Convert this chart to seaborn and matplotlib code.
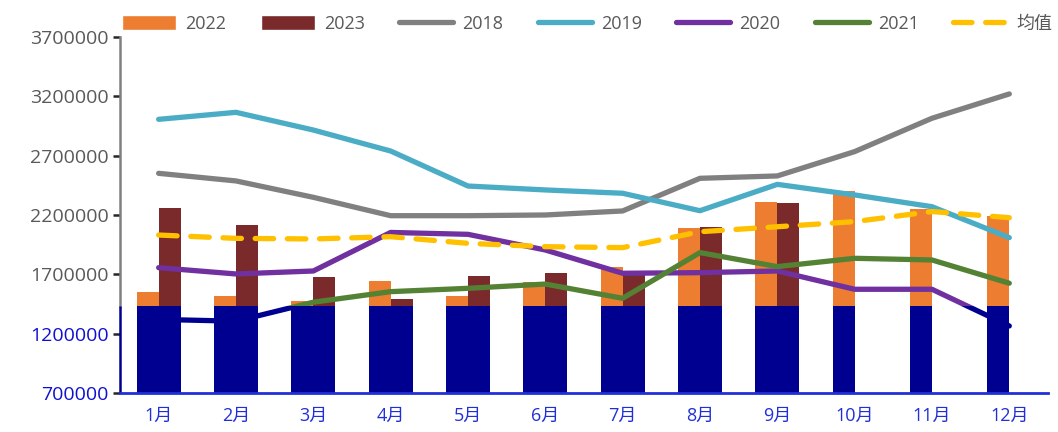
import pandas as pd
import matplotlib
matplotlib.use('Agg')
import matplotlib.pyplot as plt
import seaborn as sns
import numpy as np
from matplotlib.patches import Patch, Rectangle
from matplotlib.lines import Line2D

months = ['1月', '2月', '3月', '4月', '5月', '6月', '7月', '8月', '9月', '10月', '11月', '12月']
y2018 = [2551000, 2487000, 2349000, 2194000, 2194000, 2200000, 2234000, 2509000, 2529000, 2734000, 3015000, 3220000]
y2019 = [3006000, 3065000, 2916000, 2739000, 2444000, 2411000, 2383000, 2236000, 2458000, 2369000, 2270000, 2009000]
y2020 = [1756000, 1703000, 1728000, 2053000, 2037000, 1905000, 1709000, 1714000, 1728000, 1574000, 1574000, 1265000]
y2021 = [1320000, 1305000, 1465000, 1554000, 1582000, 1618000, 1498000, 1883000, 1765000, 1835000, 1821000, 1625000]
y2022 = [1554000, 1517000, 1475000, 1641000, 1517000, 1638000, 1765000, 2088000, 2312000, 2405000, 2248000, 2194000]
y2023 = [2262000, 2113000, 1675000, 1495000, 1689000, 1709000, 1731000, 2101000, 2304000, np.nan, np.nan, np.nan]
avg = [2031000, 2003000, 1998000, 2017000, 1961000, 1933000, 1925000, 2059000, 2101000, 2144000, 2229000, 2177000]
yticks = [700000, 1200000, 1700000, 2200000, 2700000, 3200000, 3700000]

# the lower band of the picture is recoloured navy
THRESH = 1430000

ORANGE = '#ED7D31'
DARKRED = '#7A2A2A'
GRAY = '#808080'
TEAL = '#4BACC6'
PURPLE = '#7030A0'
GREEN = '#548235'
GOLD = '#FFC000'
NAVY = '#000090'
BLUE = '#2030D8'
TXT = '#595959'

sns.set_style('white')
plt.rcParams['font.family'] = ['Open Sans', 'Noto Sans CJK SC', 'DejaVu Sans']

fig = plt.figure(figsize=(10.58, 4.32), dpi=100)
ax = fig.add_axes([0.1134, 0.0903, 0.8771, 0.8241])

bars = pd.DataFrame({
    'month': months * 2,
    'year': ['2022'] * 12 + ['2023'] * 12,
    'value': y2022 + y2023,
})
bars['cap'] = bars['value'].clip(upper=THRESH)

sns.barplot(data=bars, x='month', y='value', hue='year', palette=[ORANGE, DARKRED],
            width=0.57, saturation=1, linewidth=0, legend=False, ax=ax, zorder=2)
sns.barplot(data=bars, x='month', y='cap', hue='year', palette=[NAVY, NAVY],
            width=0.57, saturation=1, linewidth=0, legend=False, ax=ax, zorder=3)

idx = np.arange(len(months))
upper = Rectangle((-1, THRESH), 14, 5000000, transform=ax.transData)
lower = Rectangle((-1, 0), 14, THRESH, transform=ax.transData)

series = [(y2018, GRAY), (y2019, TEAL), (y2020, PURPLE), (y2021, GREEN)]
for vals, col in series:
    sns.lineplot(x=idx, y=vals, color=col, linewidth=3.8, ax=ax, zorder=5)
    ax.lines[-1].set_clip_path(upper)
    ax.lines[-1].set_solid_capstyle('round')
    sns.lineplot(x=idx, y=vals, color=NAVY, linewidth=3.8, ax=ax, zorder=5)
    ax.lines[-1].set_clip_path(lower)

sns.lineplot(x=idx, y=avg, color=GOLD, linewidth=3.8, ax=ax, zorder=6)
ax.lines[-1].set_dashes((3.5, 2.6))
ax.lines[-1].set_dash_capstyle('round')

ax.set_xlim(-0.5, 11.5)
ax.set_ylim(700000, 3700000)
ax.set_yticks(yticks)
ax.set_yticklabels([str(v) for v in yticks])
ax.set_xlabel('')
ax.set_ylabel('')

for s in ['top', 'right']:
    ax.spines[s].set_visible(False)
ax.spines['left'].set_color(GRAY)
ax.spines['left'].set_linewidth(1.8)
ax.spines['left'].set_bounds(THRESH, 3700000)
ax.vlines(-0.5, 700000, THRESH, color=NAVY, linewidth=1.8, clip_on=False, zorder=7)
ax.spines['bottom'].set_color(BLUE)
ax.spines['bottom'].set_linewidth(2)
ax.spines['bottom'].set_zorder(8)

ax.tick_params(axis='y', length=5, width=1.8, pad=3, labelsize=14, left=True)
ax.tick_params(axis='x', length=0, pad=10, labelsize=13, labelcolor=BLUE)
for t, v in zip(ax.yaxis.get_major_ticks(), yticks):
    c = NAVY if v < THRESH else GRAY
    t.tick1line.set_color(c)
    t.label1.set_color('#1010D0' if v < THRESH else TXT)

handles = [
    Patch(facecolor=ORANGE, label='2022'),
    Patch(facecolor=DARKRED, label='2023'),
    Line2D([], [], color=GRAY, linewidth=3.8, solid_capstyle='round', label='2018'),
    Line2D([], [], color=TEAL, linewidth=3.8, solid_capstyle='round', label='2019'),
    Line2D([], [], color=PURPLE, linewidth=3.8, solid_capstyle='round', label='2020'),
    Line2D([], [], color=GREEN, linewidth=3.8, solid_capstyle='round', label='2021'),
    Line2D([], [], color=GOLD, linewidth=3.8, dashes=(3.5, 2.6), dash_capstyle='round', label='均值'),
]
leg = fig.legend(handles=handles, ncol=7, loc='center', bbox_to_anchor=(0.555, 0.944),
                 frameon=False, fontsize=13, handlelength=3.0, handleheight=0.9,
                 columnspacing=1.9, handletextpad=0.5, labelcolor=TXT)

fig.savefig('out.png', dpi=100)
